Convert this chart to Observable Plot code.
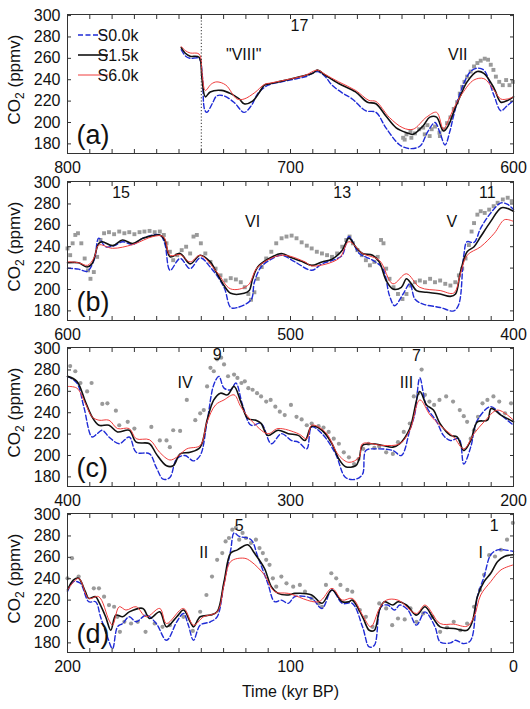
<!DOCTYPE html>
<html><head><meta charset="utf-8">
<script src="https://cdn.jsdelivr.net/npm/d3@7"></script>
<script src="https://cdn.jsdelivr.net/npm/@observablehq/plot@0.6"></script>
<style>
body{margin:0;background:#fff;}
#chart{position:relative;width:530px;height:709px;font-family:"Liberation Sans",Arial,sans-serif;}
#chart .pnl{position:absolute;left:0;}
</style>
</head><body><div id="chart"></div>
<script>
// ---------- DATA ----------
const seriesNames = ["S0.0k", "S1.5k", "S6.0k"];
const yTickValues = [180, 200, 220, 240, 260, 280, 300];
const yLabelParts = ["CO", "2", " (ppmv)"];
const xLabel = "Time (kyr BP)";
const panelLetters = ["(a)", "(b)", "(c)", "(d)"];
const panelDomains = [[800, 600], [600, 400], [400, 200], [200, 0]];
const boundaryA = 740;

// panel (a) 800-600
const s00_a = [[749,268],[747,262],[745,260],[741,260],[739.6,245],[738.5,212],[737.5,209.5],[735,218],[733,225],[730,225],[725.4,219],[720.8,209.5],[717.5,216],[714.7,227],[710,235],[704,238],[698,240.6],[693,243],[688,247.6],[684.5,243],[681.4,235],[677,228],[672.3,222],[666.3,211],[661.7,209.5],[657.2,195],[651,179],[646.6,175.6],[642,177.8],[638.3,192],[635.2,200],[633,190.5],[630.7,179],[628.5,192],[626.9,206],[623.8,228.6],[619.3,247.6],[616.3,250.8],[613.3,249],[608.7,225],[605.7,211],[602.7,216],[600,220.6]];
const s15_a = [[749,270],[747.3,265],[745,262],[741,261],[739.7,241],[738.2,224],[736,228.6],[731,230],[726.8,227],[723,222],[720.8,217.5],[717,220],[714,228],[711.7,235],[708.7,236.5],[704,238.7],[699.5,241],[693.5,244],[690,246],[688,249],[684.5,244.4],[678.4,236.5],[670.8,228.6],[665.5,219],[661.7,217.5],[657.2,206],[652.6,195],[648,190.5],[645,189],[640.5,197],[637.5,205],[634.5,205],[631.4,192],[629,198],[626.9,209.5],[623.8,225],[620.8,238],[616.3,247.6],[613.3,246],[608.7,232],[605.7,219],[602.7,220.6],[600,224]];
const s60_a = [[749,271],[747,267],[745,265],[741,264],[739.6,245],[738.2,230],[735.5,236],[733,238],[729,235],[724,222],[720.8,222],[716,228],[711.7,235.6],[708.7,237],[704,239],[699.5,241],[693.5,244],[688,249],[684.5,245],[678.4,238],[670.8,230],[664.8,220.6],[661.7,219.7],[655.7,204.8],[649.6,195],[645,193.7],[639,205],[634.5,209.5],[631.4,193.7],[629,203],[626.9,212.7],[623,227],[617.8,239.7],[613.3,241],[608.7,230],[605.7,222],[602.7,222],[600,224]];
const obs_a = [[649.5,185.7],[648.8,184],[648,188.9],[646.2,192],[645.8,185.7],[644.2,189.8],[642.3,193.7],[640.5,195.2],[639.8,188.9],[638.6,197.5],[637.6,187.3],[636.7,193.7],[635.2,196.2],[633.2,190.5],[633,187.3],[631.4,193.7],[629.8,199.4],[628.3,204.8],[626.8,212.7],[625.3,219],[624.1,227],[623,233.3],[622,238],[620.8,242.9],[619.2,247.6],[617.7,252.4],[616.2,255.6],[614.7,257.8],[612.9,259.7],[611.4,258.7],[610.2,254],[609,249.2],[607.9,242.9],[606.4,238],[604.8,234.9],[603.3,239.7],[601.8,234.9],[600.3,238]];
const notes_a = [["17",696,290.5],["\"VIII\"",721,263.5],["VII",625,263.5]];

// panel (b) 600-400
const s00_b = [[600,220],[595,219],[591.2,217],[588,228],[586,248],[582.9,240],[579,241],[575.3,244.7],[570.8,242],[566.2,248],[558.6,251],[556.4,243],[554,218],[549.5,229],[545,219.5],[540.5,229.6],[536,221],[529.8,202],[526.8,183.2],[523.8,183.2],[517.7,190.4],[516.2,206.8],[513.2,221],[508.6,228.3],[504,232],[498,225.8],[490.5,218],[485.9,224],[479.8,228.3],[476.8,232],[473.8,249.5],[469.2,233.7],[463.2,227.4],[458.6,219.5],[455.6,194.2],[453.3,184.8],[449.5,195.8],[446.5,205.3],[444.2,191],[440.5,186.3],[432.9,183.2],[426.8,180],[424.5,186.3],[422.3,232],[420.8,244.7],[417.7,244],[414.7,257.4],[410.2,271.6],[405.6,281],[402.6,279.5],[400,274.7]];
const s15_b = [[600,225],[595,225],[591.2,221],[589,224],[586,243],[584.4,244.7],[579.8,241],[575.3,246.3],[570.8,243],[566.2,248],[561.7,250.4],[558.6,251],[556.4,246.3],[554,230.5],[549.5,233.7],[545,224],[540.5,232],[536,225.8],[532.9,214.7],[529.8,203.7],[526.8,196.4],[520.8,196.4],[518.5,199],[517,210],[514.7,221],[510.2,228.3],[504,233.7],[499.5,229.6],[495,226.4],[490.5,222.6],[485.9,225.8],[481.4,228.3],[476.8,236.8],[473.8,248],[470.8,240],[467.7,233.7],[463.2,232],[460.2,225.8],[457.1,208.4],[454.1,200.5],[450.3,202],[448,210],[445.8,205.3],[443.5,199],[439,197.4],[432.9,195.8],[428.3,193.6],[426,195.8],[423.8,216.3],[420.8,235.3],[417.7,240],[414.7,249.5],[410.2,263.7],[405.6,276.3],[402.6,275.7],[400,273]];
const s60_b = [[600,226],[595,225],[591,222.6],[588,230],[586,241.6],[579.8,238.5],[570.8,242],[561.7,249.5],[557,249.5],[554,232],[549.5,232.6],[545,225.8],[540.5,232],[533,216.3],[526.8,200.5],[519.2,203.7],[514.7,221],[504,232],[493.5,225.8],[490.5,222],[478.3,229],[473.8,244.7],[467.7,233.7],[460.2,227.4],[454.1,205.3],[448,214.7],[442,202],[432.9,199],[426.8,196.7],[423.8,214.7],[420.8,232],[414.7,240],[408.6,252.6],[404,265.3],[400,263.7]];
const obs_b = [[600,238.4],[598.8,232.1],[597.7,243.2],[596.5,251],[595.3,252.6],[593.8,243.2],[592.3,229],[590.8,217.9],[589.7,210],[588.2,216.3],[586.7,230.5],[585.2,246.3],[583.6,252.6],[581.4,253.6],[579.1,251.7],[576.8,254.2],[574.5,252.6],[572.3,253.6],[570,251.7],[567.7,253.6],[565.5,254.2],[563.2,254.8],[560.9,253.6],[558.6,254.2],[556.8,251],[555.6,243.2],[554.1,235.3],[552.6,227.4],[550.8,232.1],[548.8,236.8],[546.8,240],[545,233.7],[543.5,249.5],[542,251],[540.2,243.2],[538.2,233.7],[535.9,225.8],[533.6,219.5],[531.4,213.2],[529.1,208.4],[526.8,210.6],[524.5,209.4],[522.3,206.8],[520.5,202.1],[518.9,195.8],[517.7,190.4],[516.2,197.4],[514.7,210],[512.9,221],[510.9,229],[508.6,235.3],[506.4,243.2],[504,247.9],[501.8,249.5],[499.5,250.4],[497.3,247.9],[495,244.1],[492.7,241],[490.5,238.4],[488.2,235.3],[485.9,233.7],[483.6,232.1],[481.4,230.5],[479.1,233.7],[476.8,240],[475,246.3],[473.5,249.5],[472,243.2],[470,236.8],[468,232.1],[466.2,227.4],[464.4,222.6],[462.4,225.8],[460.9,230.5],[459.4,246.3],[458.3,243.2],[457.1,219.5],[455.6,210],[453.8,202.1],[451.8,195.8],[449.8,191.1],[448,195.8],[446.2,203.7],[444.2,206.8],[442,208.4],[439.7,206.8],[437.4,210],[435.2,206.8],[432.9,208.4],[430.6,205.3],[428.3,203.7],[426.1,206.8],[424.5,213.2],[423,219.5],[421.5,229],[420,241.6],[418.8,254.2],[417.7,262.1],[416.2,270],[414.7,273.2],[412.9,271.6],[410.9,274.7],[408.9,277.9],[407.1,281.1],[404.8,284.2],[402.6,285.8],[400.8,282.6]];
const notes_b = [["15",576,290.5],["VI",517,263.5],["13",476.8,290.5],["V",427.6,263.5],["11",411.7,290.5]];

// panel (c) 400-200
const s00_c = [[400,274],[395.8,267.8],[392.7,245.7],[389,217.3],[386.7,220.4],[384.4,223.6],[381.4,217.3],[376.8,211],[372.3,217.3],[369.2,203],[363.2,201.5],[360.2,188.9],[357.1,177.8],[354.1,179.4],[351.1,196.7],[347.3,200],[343.5,195],[340.5,200],[337.4,231.5],[334.4,266.2],[332.1,274],[329.8,263],[326.8,261.5],[324.5,267.8],[321.5,247.3],[317.7,228.3],[313.2,230],[308.6,211],[304.1,220.4],[299.5,214],[296.5,212.5],[292.7,206.2],[290.5,226.7],[285.9,220.4],[279.8,201.5],[275.3,179.4],[270.8,177.8],[267.7,182.5],[266.2,204.6],[261.7,206.2],[254.1,204.6],[250.3,200],[246.5,223.6],[244.2,239.4],[242,272.5],[239,245.7],[234.4,231.5],[231.4,218.8],[228.3,214],[224.5,215.7],[222.3,192],[219.2,207.8],[216.2,233],[210.2,245.7],[205.6,237.8],[200,228.3]];
const s15_c = [[400,274],[395.8,269.4],[392,250.4],[389,236.2],[385.9,228.3],[381.4,228.3],[377.6,222],[372.3,223.6],[369.2,212.5],[363.2,211],[360.2,201.5],[355.6,190.4],[352.6,190.4],[349.5,201.5],[345,203],[340.5,207.8],[337.4,233],[334.4,252],[331.4,258.3],[328.3,256.7],[325.3,264.6],[322.3,250.4],[319.2,234.6],[315.5,233],[313.2,230],[310.2,218.8],[305.6,223.6],[301,220.4],[296.5,218.8],[293.5,214],[290.5,227.4],[285.9,223.6],[281.4,211],[278.3,196.7],[275.3,189.5],[270.8,190.4],[269.2,196.7],[267.7,209.4],[263.2,211],[258.6,209.4],[254.1,207.8],[251,211],[246.5,225.2],[242,259.9],[239,247.3],[235.9,242.5],[233,230],[228.3,218.8],[225.3,217.3],[222.3,204.6],[219.2,214],[216.2,231.5],[211.7,233],[210,244],[205.6,237.8],[200,231.5]];
const s60_c = [[400,264.6],[395.8,263],[392,248.8],[389,236.2],[385.9,233],[381.4,233],[377.6,225.2],[372.3,225.2],[369.2,215.7],[363.2,214.7],[358.7,203],[354.1,195.8],[351.1,198.3],[346.5,206.2],[340.5,209.4],[337.4,231.5],[333.6,247.3],[329.8,252],[325.3,256.7],[322.3,245.7],[317.7,233],[310.2,220.4],[305.6,225.2],[296.5,220.4],[292.7,215.7],[290.5,228.3],[284.4,222],[278.3,200],[273.8,193.6],[269.2,198.3],[267.7,211],[258.6,209.4],[251,211],[246.5,223.6],[242,252],[237.4,237.8],[233,228.3],[226.8,217.3],[222.3,206.2],[217.7,220.4],[213.2,231.5],[207.1,242.5],[200,233]];
const obs_c = [[398.8,283.6],[396.5,278.8],[394.2,267.8],[391.2,259.9],[389.2,267.8],[384.4,248.2],[382.1,248.8],[378.3,241.9],[376.8,228.3],[373,231.5],[370,225.2],[362.4,226.7],[358.6,214.1],[355.6,214.1],[354.1,207.8],[352.6,223.6],[349.5,223],[346.5,252],[342.7,233],[340.5,239.4],[338.9,242.5],[337.4,264.6],[335.9,282],[334.4,278.8],[332.9,289.9],[331.1,291.5],[329.8,285.2],[328,274.1],[325.3,275.7],[323.8,272.5],[322,267.8],[320.5,269.4],[318.9,263],[317,261.5],[315,258.3],[313.2,255.2],[310.9,250.4],[308.9,252],[306.8,245.7],[304.8,241],[302.6,237.8],[299.8,247.3],[297.3,236.2],[295,233.7],[292.7,228.3],[290.5,229.9],[287.4,227.4],[285.2,226.1],[282.9,222],[280.6,215.7],[278.3,211],[276.1,203],[273.8,198.3],[271.5,192],[269.5,196.7],[267.4,206.2],[265,211],[262.4,207.2],[260.2,208.4],[257.1,203],[254.1,201.5],[251.8,212.5],[249.2,222],[246.5,229.9],[244.7,255.2],[242.7,258.3],[241.2,280.4],[239.7,256.7],[237.7,250.4],[235.6,247.3],[233.2,252],[230.2,255.2],[227.1,250.4],[224.1,242.5],[222.3,236.8],[220.8,231.5],[219.2,215.7],[217.7,223.6],[215.9,236.2],[213.9,248.8],[211.7,252],[209,255.2],[206.4,250.4],[203.8,239.4],[201.1,248.8]];
const notes_c = [["9",332.9,294.5],["IV",347.3,267.8],["7",243.5,293],["III",248,267.8]];

// panel (d) 200-0
const s00_d = [[200,228],[197.3,237.3],[194.2,235.7],[190.5,218.5],[187.4,218.5],[185.2,204.4],[182.1,185.6],[179.8,174.6],[177.6,195],[175.3,198.1],[172.3,204.4],[169.2,199.7],[164.7,206],[160.2,198.1],[155.6,182.4],[151,199.7],[148,207.5],[145.8,196.6],[143.5,182.4],[140.5,196.6],[135.9,199.7],[132.9,204.4],[129.8,235.7],[126.8,267],[125.3,282.8],[123,279.6],[117.7,276.5],[114.7,260.8],[110.2,235.7],[107.1,218.5],[104.1,220],[101,217],[98,223.2],[90.5,221.6],[85.9,212.2],[81.4,229.5],[76.8,217],[72.3,217],[67.7,195],[64.7,176.2],[62.4,177.7],[59.4,213.8],[56.4,215.4],[53.3,210.7],[51,215.4],[47.3,210.7],[43.5,196.6],[39.7,209],[35.2,195],[32.9,180.9],[28.3,180],[26,182.4],[22.3,179.3],[19.2,182.4],[16.2,223.2],[13.2,242],[10.2,262.4],[7.1,267],[4.1,267],[0,265.5]];
const s15_d = [[200,229.5],[197.3,238.9],[195,240.4],[192,227.9],[190.5,221.6],[187.4,223.2],[186,218.5],[182.9,204.4],[180.6,191.8],[178.3,206],[175.3,204.4],[172.3,209],[166.2,212.2],[163.2,202.8],[158.6,209],[155.6,195],[151,204.4],[148,210.7],[145,199.7],[143.5,195],[140.5,204.4],[135.9,206],[132.9,209],[129.8,237.3],[126.8,264],[123.8,267],[119.2,271.8],[116.2,264],[111.7,249.8],[108.6,232.6],[105.6,226.3],[101,224.8],[98,226.3],[90.5,224.8],[85.9,217],[81.4,229.5],[76.8,218.5],[73.8,218.5],[72.3,220],[67.7,204.4],[64.7,191.8],[62.4,191.8],[60.1,210.7],[57.9,218.5],[54.1,215.4],[51.8,218.5],[48,215.4],[43.5,206],[39.7,213.8],[35.9,202.8],[32.9,195],[26.8,193.4],[20.8,191.8],[18.5,199.7],[16.2,223.2],[13.2,237.3],[10.2,245.1],[7.1,256.1],[4.1,260.8],[0,262.4]];
const s60_d = [[200,229.5],[195,240.4],[190.5,221.6],[186,223.2],[181.4,201.3],[179.8,196.6],[176.8,213.8],[173.8,210.7],[169.2,213.8],[164.7,204.4],[158.6,212.2],[155.6,198.1],[148,212.2],[143.5,196.6],[139,204.4],[132.9,209],[129.8,234.2],[126.8,256.1],[120.8,259.2],[117.7,256.1],[111.7,243.6],[107.1,227.9],[101,226.3],[87.4,218.5],[81.4,231],[76.8,220],[72.3,221.6],[67.7,206],[64,195],[60.1,212.2],[57,220],[51.8,220],[43.5,207.5],[39.7,215.4],[32.9,198.1],[26.8,197.5],[20.8,195.6],[17.7,204.4],[14.7,224.8],[10.2,237.3],[5.6,248.3],[0,253]];
const obs_d = [[200,240.4],[198,259.2],[195,242],[188.2,231],[185.9,231],[183.6,223.2],[181.4,215.4],[179.1,213.8],[177.6,204.4],[176.5,190.3],[174.5,199.7],[171.5,198.1],[168.5,199.7],[165,190.3],[160.9,198.1],[157.4,195],[154.1,196.6],[148,204.4],[143.8,191.2],[140.5,209.1],[137.7,224.8],[135.2,242],[132.9,257.7],[130.6,264],[129.1,274.9],[127.6,278.1],[126.1,285.9],[124.5,287.5],[123,276.5],[121.5,282.8],[120,278.1],[117.7,273.4],[115.5,276.5],[113.9,268.7],[112.4,264],[110.9,257.7],[109.4,253],[107.9,240.4],[106.4,232.6],[104.1,242],[101.8,235.7],[98.8,232.6],[95.8,234.2],[93.5,227.9],[90.5,221.6],[87.4,216.9],[85.9,213.8],[84.1,234.2],[81.7,245.1],[79.5,240.4],[77.6,234.2],[74.5,229.5],[72.3,227.9],[68.9,210.7],[66.2,204.4],[63.2,195],[60.2,216.9],[57.1,212.2],[54.4,196.6],[51.8,202.8],[48.8,201.9],[46.2,212.2],[43.5,199.7],[40.5,207.5],[36.3,204.4],[32.9,190.3],[29.8,194.4],[26.8,199.7],[23.8,191.8],[20.8,198.1],[17.7,213.8],[15,229.5],[13.2,243.6],[10.9,262],[8.3,260.8],[5.6,267.1],[2.9,276.5],[0.3,292.2]];
const notes_d = [["5",123,289],["II",138.9,264],["1",8.6,289],["I",14.7,264]];

// ---------- STYLE ----------
const FONT = '"Liberation Sans", Arial, Helvetica, sans-serif';
const BLUE = "#1f2bd6", BLACK = "#111111", RED = "#f03c3c", GRAY = "#9a9a9a", FRAME = "#333";
const panels = [
  {s00: s00_a, s15: s15_a, s60: s60_a, obs: obs_a, notes: notes_a, symbol: "square"},
  {s00: s00_b, s15: s15_b, s60: s60_b, obs: obs_b, notes: notes_b, symbol: "square"},
  {s00: s00_c, s15: s15_c, s60: s60_c, obs: obs_c, notes: notes_c, symbol: "circle"},
  {s00: s00_d, s15: s15_d, s60: s60_d, obs: obs_d, notes: notes_d, symbol: "circle"}
];
const panelTops = [0, 167, 333, 499];

const chart = document.getElementById("chart");
panels.forEach((p, i) => {
  const [hi, lo] = panelDomains[i];
  const isLast = i === 3;
  const H = isLast ? 210 : 167;
  const minor = d3.range(lo, hi + 1, 10);
  const major = d3.range(lo, hi + 1, 100);
  const X = d => d[0], Y = d => d[1];
  const marks = [
    Plot.dot(p.obs, {x: X, y: Y, symbol: p.symbol, r: p.symbol === "square" ? 2.2 : 2.1, fill: GRAY, stroke: "none"}),
    Plot.line(p.s00, {x: X, y: Y, stroke: BLUE, strokeWidth: 1.4, strokeDasharray: "5,2.5", curve: "catmull-rom"}),
    Plot.line(p.s15, {x: X, y: Y, stroke: BLACK, strokeWidth: 1.6, curve: "catmull-rom"}),
    Plot.line(p.s60, {x: X, y: Y, stroke: RED, strokeWidth: 1, curve: "catmull-rom"}),
    Plot.frame({stroke: FRAME}),
    Plot.axisX({anchor: "bottom", ticks: minor, tickSize: -4, tickFormat: () => "", label: null, stroke: FRAME}),
    Plot.axisX({anchor: "top", ticks: minor, tickSize: -4, tickFormat: () => "", label: null, stroke: FRAME}),
    Plot.axisX({anchor: "bottom", ticks: major, tickSize: 0, tickPadding: 8, fontSize: 16, label: null, fill: "#111"}),
    Plot.axisY({anchor: "left", ticks: yTickValues, tickSize: -4, tickFormat: () => "", label: null, stroke: FRAME}),
    Plot.axisY({anchor: "right", ticks: yTickValues, tickSize: -4, tickFormat: () => "", label: null, stroke: FRAME}),
    Plot.axisY({anchor: "left", ticks: yTickValues, tickSize: 0, tickPadding: 7, fontSize: 16, label: null, fill: "#111"}),
    Plot.text(p.notes, {x: d => d[1], y: d => d[2], text: d => d[0], fontSize: 16, fill: "#111"}),
    Plot.text([panelLetters[i]], {frameAnchor: "top-left", dx: 9, dy: 110, textAnchor: "start", fontSize: 27, fill: "#111", text: d => d})
  ];
  if (i === 0) marks.push(Plot.ruleX([boundaryA], {stroke: FRAME, strokeWidth: 1, strokeDasharray: "1.2,2"}));
  if (isLast) marks.push(Plot.text([xLabel], {frameAnchor: "bottom", dy: 44, fontSize: 16, fill: "#111", text: d => d}));
  const svg = Plot.plot({
    width: 530, height: H,
    marginLeft: 67, marginRight: 17, marginTop: 14, marginBottom: H - 14 - 139,
    x: {domain: [hi, lo]},
    y: {domain: [171, 301]},
    style: {fontFamily: FONT, fontSize: "16px", background: "transparent", overflow: "visible"},
    marks
  });
  const wrap = document.createElement("div");
  wrap.className = "pnl";
  wrap.style.top = panelTops[i] + "px";
  wrap.appendChild(svg);
  chart.appendChild(wrap);

  // y-axis title with true subscript
  const yl = d3.select(svg).append("text")
    .attr("transform", `translate(20,${14 + 139 / 2 - 4}) rotate(-90)`)
    .attr("text-anchor", "middle").attr("font-family", FONT).attr("font-size", 17).attr("fill", "#111");
  yl.append("tspan").text(yLabelParts[0]);
  yl.append("tspan").attr("font-size", 12).attr("dy", 4).text(yLabelParts[1]);
  yl.append("tspan").attr("dy", -4).text(yLabelParts[2]);

  if (i === 0) {
    const g = d3.select(svg).append("g").attr("font-family", FONT).attr("font-size", 16);
    const styles = [
      {stroke: BLUE, w: 1.4, dash: "5,2.5"},
      {stroke: BLACK, w: 1.6, dash: null},
      {stroke: RED, w: 1, dash: null}
    ];
    seriesNames.forEach((name, k) => {
      const yy = 35 + k * 20;
      g.append("line").attr("x1", 78).attr("x2", 108).attr("y1", yy).attr("y2", yy)
        .attr("stroke", styles[k].stroke).attr("stroke-width", styles[k].w)
        .attr("stroke-dasharray", styles[k].dash);
      g.append("text").attr("x", 118).attr("y", yy).attr("dy", "0.35em").attr("fill", "#111").text(name);
    });
  }
});
</script>
</body></html>
